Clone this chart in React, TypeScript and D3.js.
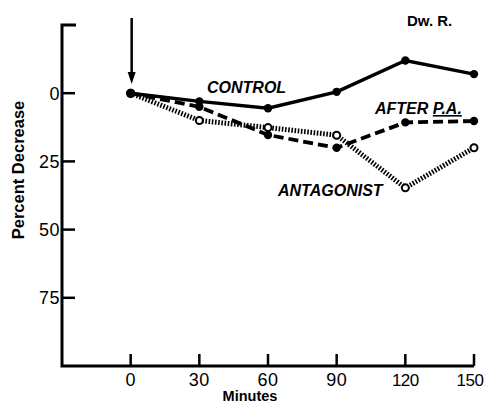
import React from "react";
import * as d3 from "d3";

const minutes = [0, 30, 60, 90, 120, 150];
const controlValues = [0, 3, 5.5, -0.5, -12, -7];
const afterPAValues = [0, 5, 15.3, 20, 10.7, 10.2];
const antagonistValues = [0, 10, 12.6, 15.4, 34.7, 20];
const yTicks = [0, 25, 50, 75];
const xTicks = [0, 30, 60, 90, 120, 150];

const W = 487;
const H = 403;
const FONT = "'Liberation Sans', Arial, sans-serif";

export default function App() {
  const x = d3.scaleLinear().domain([-30, 150]).range([62, 474]);
  const y = d3.scaleLinear().domain([-25, 100]).range([25, 366]);
  const line = d3
    .line<number>()
    .x((_, i) => x(minutes[i]))
    .y((d) => y(d));

  const series = [
    { name: "control", values: controlValues, dash: undefined as string | undefined, width: 3.5, open: false },
    { name: "afterPA", values: afterPAValues, dash: "10,5", width: 3.8, open: false },
    { name: "antagonist", values: antagonistValues, dash: "1.6,1.6", width: 5, open: true },
  ];

  const x0 = x(-30);
  const yTop = y(-25);
  const yBot = y(100);

  return (
    <svg
      width={W}
      height={H}
      style={{ position: "absolute", left: 0, top: 0, background: "#fff" }}
    >
      <rect width={W} height={H} fill="#fff" />
      {/* axes */}
      <path
        d={`M${x0 + 14},${yTop} H${x0} V${yBot} H${x(150)}`}
        fill="none"
        stroke="#000"
        strokeWidth={3}
      />
      {yTicks.map((t) => (
        <g key={"y" + t}>
          <line x1={x0} x2={x0 + 13} y1={y(t)} y2={y(t)} stroke="#000" strokeWidth={2.5} />
          <text
            x={x0 - 2}
            y={y(t) + 6.5}
            textAnchor="end"
            fontFamily={FONT}
            fontSize={18}
            letterSpacing={0.5}
          >
            {t}
          </text>
        </g>
      ))}
      {xTicks.map((t) => (
        <g key={"x" + t}>
          <line x1={x(t)} x2={x(t)} y1={yBot} y2={yBot - 12} stroke="#000" strokeWidth={2.5} />
          <text
            x={Math.min(x(t), W - 17)}
            y={yBot + 20}
            textAnchor="middle"
            fontFamily={FONT}
            fontSize={t >= 100 ? 17 : 18}
            letterSpacing={t >= 100 ? -0.5 : 0.5}
          >
            {t}
          </text>
        </g>
      ))}
      <text
        x={250}
        y={401}
        textAnchor="middle"
        fontFamily={FONT}
        fontWeight="bold"
        fontSize={14.5}
      >
        Minutes
      </text>
      <text
        transform={`translate(24,170) rotate(-90)`}
        textAnchor="middle"
        fontFamily={FONT}
        fontWeight="bold"
        fontSize={16.5}
      >
        Percent Decrease
      </text>

      {/* arrow */}
      <line x1={x(0) + 1} x2={x(0) + 1} y1={18} y2={76} stroke="#000" strokeWidth={2.5} />
      <path
        d={`M${x(0) + 1 - 4},${72} L${x(0) + 1 + 4},${72} L${x(0) + 1},${84} Z`}
        fill="#000"
      />

      {/* series */}
      {series.map((s) => (
        <g key={s.name}>
          <path
            d={line(s.values) || ""}
            fill="none"
            stroke="#000"
            strokeWidth={s.width}
            strokeDasharray={s.dash}
          />
          {s.values.map((v, i) => (
            <circle
              key={i}
              cx={x(minutes[i])}
              cy={y(v)}
              r={s.open ? 3.5 : 4.2}
              fill={s.open ? "#fff" : "#000"}
              stroke="#000"
              strokeWidth={s.open ? 2 : 0}
            />
          ))}
        </g>
      ))}
      <circle cx={x(0)} cy={y(0)} r={4.5} fill="#000" />

      {/* labels */}
      <g fontFamily={FONT} fontWeight="bold" fontStyle="italic" fontSize={16}>
        <text x={207} y={93}>CONTROL</text>
        <text x={375} y={114}>
          AFTER <tspan textDecoration="underline">P.A.</tspan>
        </text>
        <text x={278} y={196}>ANTAGONIST</text>
      </g>
      <text x={407} y={26} fontFamily={FONT} fontWeight="bold" fontSize={15}>
        Dw. R.
      </text>
    </svg>
  );
}
